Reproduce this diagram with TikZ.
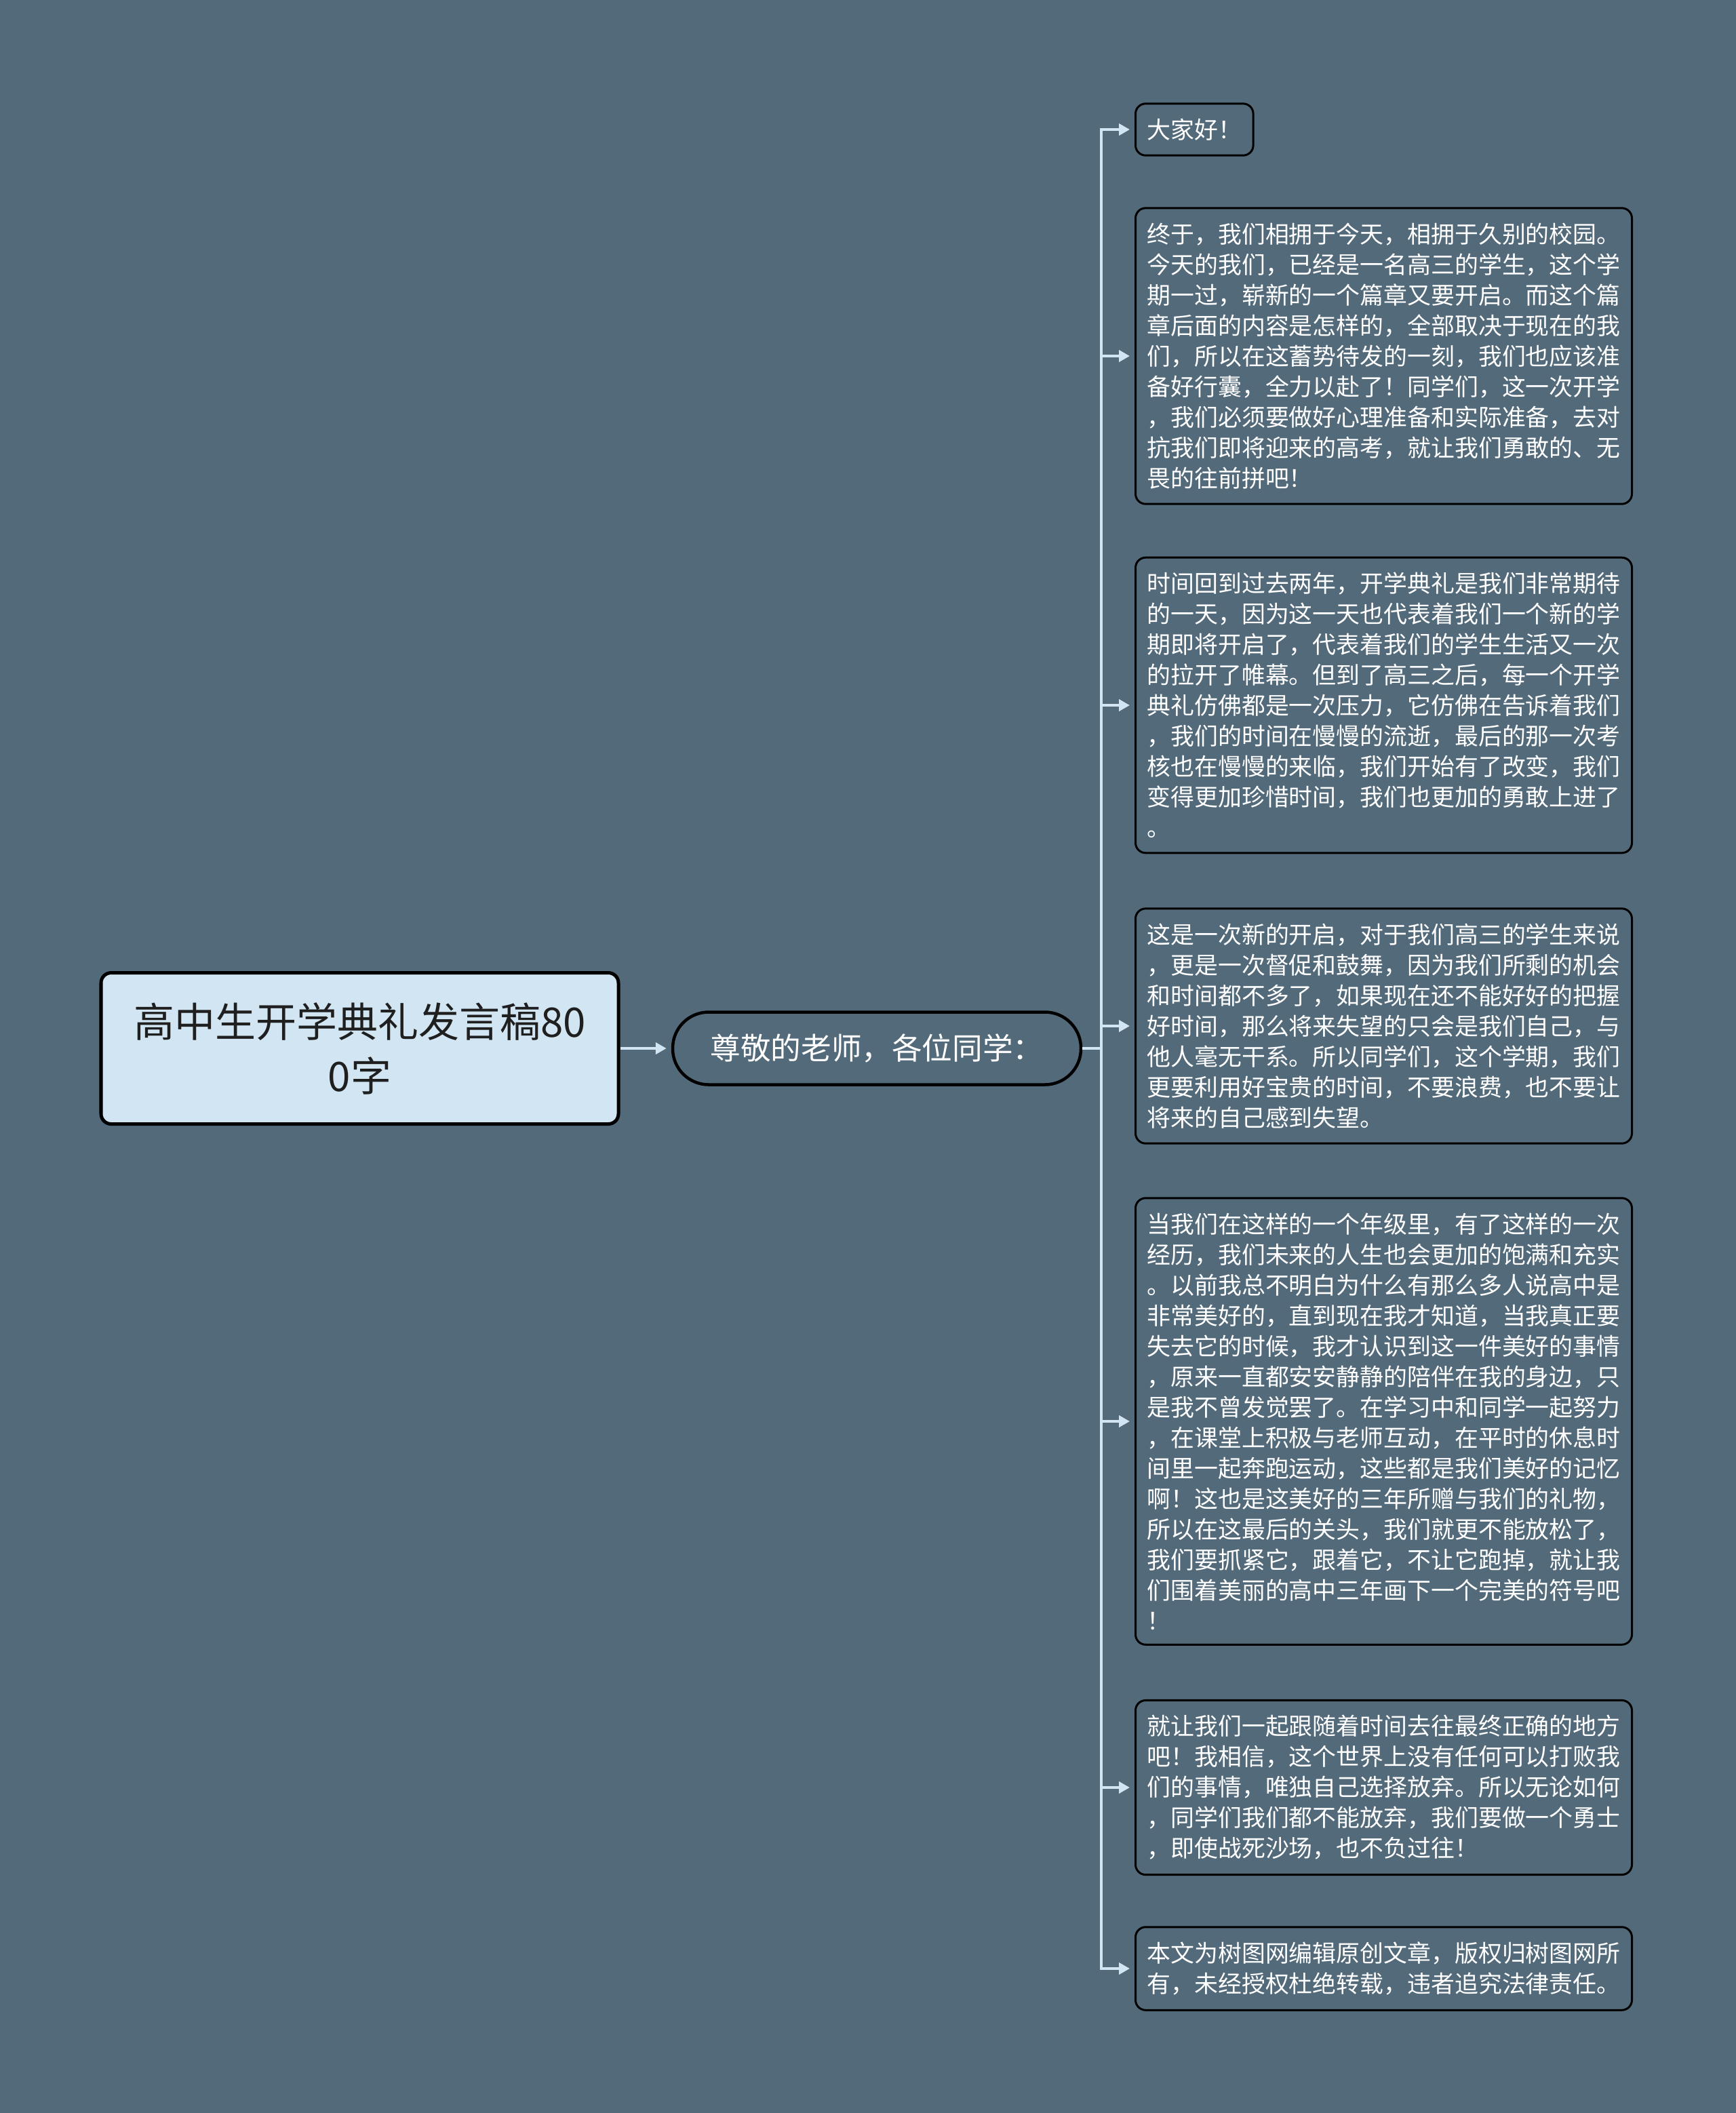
\documentclass[tikz,border=0pt]{standalone}
\usepackage{fontspec}
\usepackage{xcolor}
\usepackage{tikz}
\usetikzlibrary{arrows.meta}
\newfontfamily\cjk{Noto Sans CJK SC}
\definecolor{slate}{HTML}{536A7A}
\definecolor{paleblue}{HTML}{D1E6F2}

\begin{document}
\begin{tikzpicture}[x=1cm,y=1cm,
    title/.style={draw=black, line width=0.05cm, fill=paleblue, rounded corners=0.15cm,
      minimum width=7.63cm, minimum height=2.23cm, align=center, text=black!88,
      font=\cjk\fontsize{17.07pt}{22.76pt}\selectfont},
    greet/.style={draw=black, line width=0.045cm, fill=slate, rounded corners=0.53cm,
      minimum width=6.02cm, minimum height=1.07cm, text=white,
      font=\cjk\fontsize{12.7pt}{15pt}\selectfont},
    para/.style={draw=black, line width=0.03cm, fill=slate, rounded corners=0.15cm,
      anchor=west, align=left, text=white, inner xsep=0.17cm, inner ysep=0.22cm,
      font=\cjk\fontsize{9.93pt}{12.8pt}\selectfont},
    wide/.style={para, text width=6.98cm},
    link/.style={draw=paleblue, line width=0.04cm, shorten >=0.07cm,
      -{Triangle[length=0.16cm,width=0.17cm]}}]
      \fill[slate] (0,0) rectangle (25.6,-31.16);
      \useasboundingbox (0,0) rectangle (25.6,-31.16);

      \node[title] (title) at (5.305,-15.46) {高中生开学典礼发言稿80\\0字};
      \node[greet] (greet) at (12.93,-15.46) {尊敬的老师，各位同学：};

      \node[para] (p1) at (16.73,-1.91) {大家好！};
      \node[wide] (p2) at (16.73,-5.25) {终于，我们相拥于今天，相拥于久别的校园。\\今天的我们，已经是一名高三的学生，这个学\\期一过，崭新的一个篇章又要开启。而这个篇\\章后面的内容是怎样的，全部取决于现在的我\\们，所以在这蓄势待发的一刻，我们也应该准\\备好行囊，全力以赴了！同学们，这一次开学\\，我们必须要做好心理准备和实际准备，去对\\抗我们即将迎来的高考，就让我们勇敢的、无\\畏的往前拼吧！};
      \node[wide] (p3) at (16.73,-10.40) {时间回到过去两年，开学典礼是我们非常期待\\的一天，因为这一天也代表着我们一个新的学\\期即将开启了，代表着我们的学生生活又一次\\的拉开了帷幕。但到了高三之后，每一个开学\\典礼仿佛都是一次压力，它仿佛在告诉着我们\\，我们的时间在慢慢的流逝，最后的那一次考\\核也在慢慢的来临，我们开始有了改变，我们\\变得更加珍惜时间，我们也更加的勇敢上进了\\。};
      \node[wide] (p4) at (16.73,-15.13) {这是一次新的开启，对于我们高三的学生来说\\，更是一次督促和鼓舞，因为我们所剩的机会\\和时间都不多了，如果现在还不能好好的把握\\好时间，那么将来失望的只会是我们自己，与\\他人毫无干系。所以同学们，这个学期，我们\\更要利用好宝贵的时间，不要浪费，也不要让\\将来的自己感到失望。};
      \node[wide] (p5) at (16.73,-20.96) {当我们在这样的一个年级里，有了这样的一次\\经历，我们未来的人生也会更加的饱满和充实\\。以前我总不明白为什么有那么多人说高中是\\非常美好的，直到现在我才知道，当我真正要\\失去它的时候，我才认识到这一件美好的事情\\，原来一直都安安静静的陪伴在我的身边，只\\是我不曾发觉罢了。在学习中和同学一起努力\\，在课堂上积极与老师互动，在平时的休息时\\间里一起奔跑运动，这些都是我们美好的记忆\\啊！这也是这美好的三年所赠与我们的礼物，\\所以在这最后的关头，我们就更不能放松了，\\我们要抓紧它，跟着它，不让它跑掉，就让我\\们围着美丽的高中三年画下一个完美的符号吧\\！};
      \node[wide] (p6) at (16.73,-26.36) {就让我们一起跟随着时间去往最终正确的地方\\吧！我相信，这个世界上没有任何可以打败我\\们的事情，唯独自己选择放弃。所以无论如何\\，同学们我们都不能放弃，我们要做一个勇士\\，即使战死沙场，也不负过往！};
      \node[wide] (p7) at (16.73,-29.03) {本文为树图网编辑原创文章，版权归树图网所\\有，未经授权杜绝转载，违者追究法律责任。};

      \coordinate (fork) at (16.24,-15.46);
      \draw[link] (title) -- (greet);
      \foreach \leaf in {p1,p2,p3,p4,p5,p6,p7}
        \draw[link] (greet.east) -- (fork) |- (\leaf.west);
\end{tikzpicture}
\end{document}
